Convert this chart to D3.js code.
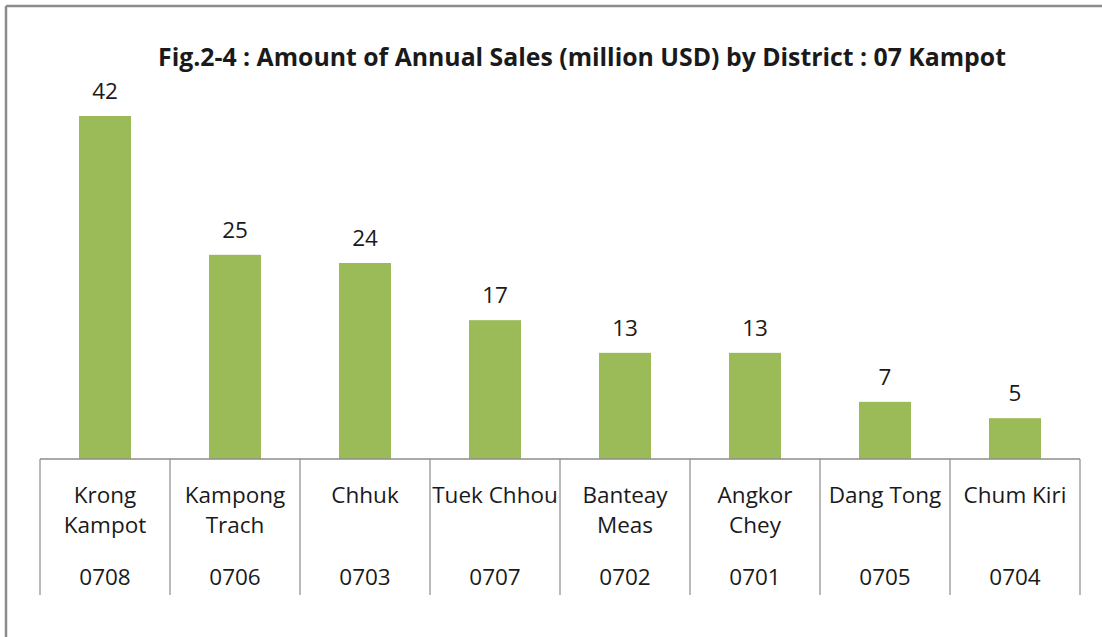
<!DOCTYPE html>
<html>
<head>
<meta charset="utf-8">
<script src="https://cdn.jsdelivr.net/npm/d3@7"></script>
<style>
  body { margin: 0; background: #fff; }
  svg text { font-family: "Open Sans", "Noto Sans", sans-serif; fill: #1a1a1a; }
</style>
</head>
<body>
<div id="chart"></div>
<script>
// district names (two lines where the label wraps), codes and sales values
var districts = [["Krong", "Kampot"], ["Kampong", "Trach"], ["Chhuk"], ["Tuek Chhou"],
  ["Banteay", "Meas"], ["Angkor", "Chey"], ["Dang Tong"], ["Chum Kiri"]];
var codes = ["0708", "0706", "0703", "0707", "0702", "0701", "0705", "0704"];
var sales = [42, 25, 24, 17, 13, 13, 7, 5];

var svgWidth = 1102;
var svgHeight = 637;

var margin = { top: 116, right: 22, bottom: 178, left: 40 };
var width = svgWidth - margin.left - margin.right;
var height = svgHeight - margin.top - margin.bottom;

var svg = d3.select("#chart")
  .append("svg")
  .attr("width", svgWidth)
  .attr("height", svgHeight);

// outer frame (top and left edges only visible)
svg.append("line")
  .attr("x1", 6).attr("x2", svgWidth).attr("y1", 6).attr("y2", 6)
  .attr("stroke", "#8c8c8c").attr("stroke-width", 2.5);
svg.append("line")
  .attr("x1", 6).attr("x2", 6).attr("y1", 6).attr("y2", svgHeight)
  .attr("stroke", "#8c8c8c").attr("stroke-width", 2.5);

// title
svg.append("text")
  .attr("x", 582)
  .attr("y", 66)
  .attr("text-anchor", "middle")
  .attr("font-weight", "bold")
  .attr("font-size", "24.8px")
  .text("Fig.2-4 : Amount of Annual Sales (million USD) by District : 07 Kampot");

var chartGroup = svg.append("g")
  .attr("transform", `translate(${margin.left}, ${margin.top})`);

var xScale = d3.scaleBand()
  .domain(codes)
  .range([0, width])
  .paddingInner(0.6)
  .paddingOuter(0.3);

var yScale = d3.scaleLinear()
  .domain([0, 42])
  .range([height, 0]);

// bars
chartGroup.selectAll("rect.bar")
  .data(sales)
  .enter()
  .append("rect")
  .attr("class", "bar")
  .attr("x", (d, i) => xScale(codes[i]))
  .attr("y", d => yScale(d))
  .attr("width", xScale.bandwidth())
  .attr("height", d => height - yScale(d))
  .attr("fill", "#9bbb59");

// value labels
chartGroup.selectAll("text.value")
  .data(sales)
  .enter()
  .append("text")
  .attr("class", "value")
  .attr("x", (d, i) => xScale(codes[i]) + xScale.bandwidth() / 2)
  .attr("y", d => yScale(d) - 17)
  .attr("text-anchor", "middle")
  .attr("font-size", "22.5px")
  .text(d => d);

// category axis: baseline plus separators between categories
var step = width / codes.length;
var axisG = chartGroup.append("g")
  .attr("transform", `translate(0, ${height})`);

axisG.append("line")
  .attr("x1", 0).attr("x2", width).attr("y1", 0).attr("y2", 0)
  .attr("stroke", "#8c8c8c").attr("stroke-width", 1.5);

axisG.selectAll("line.sep")
  .data(d3.range(codes.length + 1))
  .enter()
  .append("line")
  .attr("class", "sep")
  .attr("x1", d => d * step).attr("x2", d => d * step)
  .attr("y1", 0).attr("y2", 136)
  .attr("stroke", "#8c8c8c").attr("stroke-width", 1.2);

var catLabels = axisG.selectAll("text.cat")
  .data(districts)
  .enter()
  .append("text")
  .attr("class", "cat")
  .attr("text-anchor", "middle")
  .attr("font-size", "22.5px")
  .attr("transform", (d, i) => `translate(${(i + 0.5) * step}, 44)`);

catLabels.selectAll("tspan")
  .data(d => d)
  .enter()
  .append("tspan")
  .attr("x", 0)
  .attr("dy", (d, j) => j === 0 ? 0 : 30)
  .text(d => d);

axisG.selectAll("text.code")
  .data(codes)
  .enter()
  .append("text")
  .attr("class", "code")
  .attr("text-anchor", "middle")
  .attr("font-size", "22.5px")
  .attr("x", (d, i) => (i + 0.5) * step)
  .attr("y", 126)
  .text(d => d);
</script>
</body>
</html>
